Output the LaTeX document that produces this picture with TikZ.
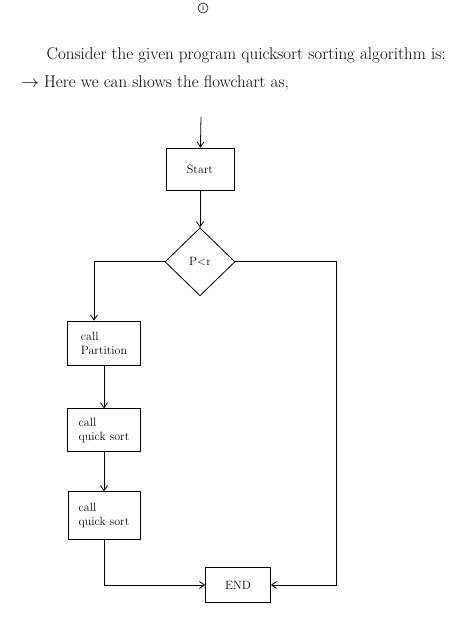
\documentclass[tikz,border=0pt]{standalone}
\usepackage{amsmath}
\usetikzlibrary{arrows.meta,positioning,shapes.geometric}

\begin{document}
\begin{tikzpicture}[
	x = 1pt, y = 1pt,
	> = {Straight Barb[length=5pt,width=7pt]}, % arrow head style
	line width = .8pt, % line style
	B/.style={rectangle, draw=black, align=left, font=\large, inner sep=2pt},  % process box
	D/.style={diamond, draw=black, minimum width=70pt, minimum height=68pt, inner sep=0pt, font=\large}, % decision
	T/.style={anchor=west, font=\fontsize{17}{20}\selectfont},               % handwritten lines
	]
	\useasboundingbox (0,0) rectangle (474,627);

	% Header
	\node[circle, draw=black, line width=.6pt, minimum size=10pt, inner sep=0pt, font=\scriptsize] (pg) at (203,619) {1};
	\node[T] (h1) at (43,572) {Consider the given program quicksort sorting algorithm is:};
	\node[T] (h2) at (18,544) {$\rightarrow$ Here we can shows the flowchart as,};

	% Nodes and their relative positions
	\coordinate (in) at (201,510);
	\node[B, minimum width=68pt, minimum height=42pt] (start) at (200,458) {Start};
	\node[D] (dec) [below = 37pt of start] {P$<$r};
	\node[B, minimum width=73pt, minimum height=44pt] (part) at (104,284) {call\\Partition};
	\node[B, minimum width=73pt, minimum height=43pt] (qs1) [below = 43pt of part] {call\\quick sort};
	\node[B, minimum width=72pt, minimum height=48pt] (qs2) [below = 39pt of qs1] {call\\quick sort};
	\node[B, minimum width=65pt, minimum height=35pt] (end) at (238,42) {END};
	\coordinate (rr) at (dec.east -| 336,0);

	% Paths connecting nodes
	\draw[->] (in) -- (start);
	\draw[->] (start) -- (dec);
	\draw[->] (dec.west) -| ([xshift=-10pt]part.north);
	\draw[->] (part) -- (qs1);
	\draw[->] (qs1) -- (qs2);
	\draw[->] (qs2.south) |- (end.west);
	\draw[->] (dec.east) -- (rr) |- (end.east);

\end{tikzpicture}
\end{document}
